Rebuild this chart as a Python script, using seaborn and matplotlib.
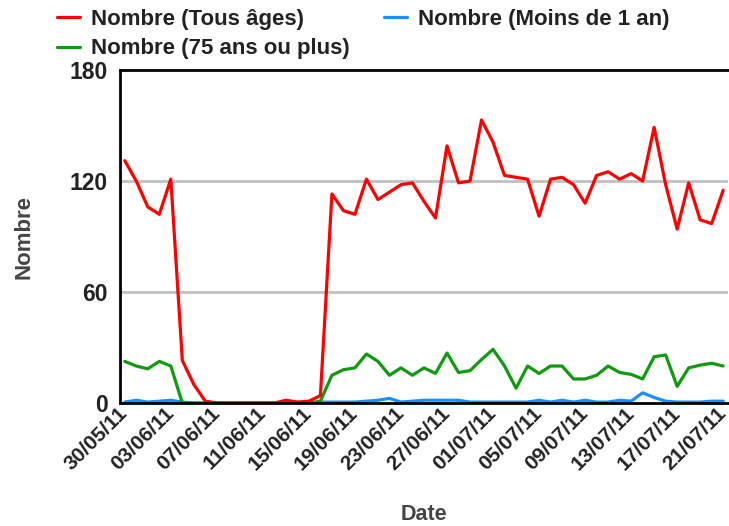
import matplotlib
matplotlib.use("Agg")
import matplotlib.pyplot as plt
import matplotlib.transforms as mtransforms
import seaborn as sns
import pandas as pd
import numpy as np

dates = pd.date_range("2011-05-30", "2011-07-21", freq="D")

tous_ages = [131, 120, 106, 102, 121, 23, 10, 1, 0, 0, 0, 0, 0, 0, 1.5, 0.5, 1, 4,
             113, 104, 102, 121, 110, 114, 118, 119, 109, 100, 139, 119, 120, 153,
             141, 123, 122, 121, 101, 121, 122, 118, 108, 123, 125, 121, 124, 120,
             149, 118, 94, 119, 99, 97, 115]
plus_75 = [22.5, 20, 18.5, 22.5, 20, 0, 0, 0, 0, 0, 0, 0, 0, 0, 0, 0, 0, 1,
           15, 18, 19, 26.5, 22.5, 15, 19, 15, 19, 16, 27, 16.5, 17.5, 23.5,
           29, 20, 8, 20, 16, 20, 20, 13, 13, 15, 20, 16.5, 15.5, 13,
           25, 26, 9, 19, 20.5, 21.5, 20]
moins_1 = [0.5, 1.5, 0.5, 1, 1.5, 0.5, 0, 0, 0, 0, 0, 0, 0, 0, 0, 0, 0, 0.5,
           0.5, 0.5, 0.5, 1, 1.5, 2.5, 0.5, 1, 1.5, 1.5, 1.5, 1.5, 0.5, 0.5,
           0.5, 0.5, 0.5, 0.5, 1.5, 0.5, 1.5, 0.5, 1.5, 0.5, 0.5, 1.5, 1, 5.5,
           3, 1, 0.5, 0.5, 0.5, 1, 1]

series_names = ["Nombre (Tous âges)", "Nombre (75 ans ou plus)", "Nombre (Moins de 1 an)"]
series_colors = ["#ff0000", "#109a10", "#1a90ff"]
tick_dates = ["30/05/11", "03/06/11", "07/06/11", "11/06/11", "15/06/11", "19/06/11",
              "23/06/11", "27/06/11", "01/07/11", "05/07/11", "09/07/11", "13/07/11",
              "17/07/11", "21/07/11"]
y_ticks = [0, 60, 120, 180]

df = pd.concat([
    pd.DataFrame({"Date": dates, "Nombre": vals, "Série": name})
    for name, vals in zip(series_names, [tous_ages, plus_75, moins_1])
])

sns.set_style("white")
plt.rcParams["font.family"] = ["Liberation Sans", "DejaVu Sans"]

fig = plt.figure(figsize=(7.29, 5.26), dpi=100)
ax = fig.add_axes([0.1646, 0.2338, 0.834, 0.6331])

draw_order = [series_names[2], series_names[1], series_names[0]]
palette = dict(zip(series_names, series_colors))
sns.lineplot(data=df, x="Date", y="Nombre", hue="Série", hue_order=draw_order,
             palette=palette, linewidth=2.3, ax=ax, legend=True)

ax.set_ylim(0, 180)
ax.set_yticks(y_ticks)
ax.set_yticklabels([str(v) for v in y_ticks], fontsize=16.5, fontweight="bold", color="#222222")
xt = pd.to_datetime(tick_dates, format="%d/%m/%y")
ax.set_xticks(xt)
ax.set_xticklabels(tick_dates, rotation=45, ha="right", va="center", rotation_mode="anchor",
                   fontsize=15, fontweight="bold", color="#222222")
shift = mtransforms.ScaledTranslation(8 / 100, 0, fig.dpi_scale_trans)
for lab in ax.get_xticklabels():
    lab.set_transform(lab.get_transform() + shift)
ax.set_xlim(dates[0] - pd.Timedelta(hours=10), dates[-1] + pd.Timedelta(hours=10))

for v in [60, 120]:
    ax.axhline(v, color="#c0c0c0", linewidth=2, zorder=0)

for s in ["left", "bottom", "top"]:
    ax.spines[s].set_visible(True)
    ax.spines[s].set_color("black")
    ax.spines[s].set_linewidth(2)
ax.spines["right"].set_visible(False)
ax.tick_params(axis="x", direction="out", length=5, width=1.5, color="black", pad=0)
ax.tick_params(axis="y", direction="out", length=3, width=1.5, color="#888888", pad=6)

ax.set_xlabel("Date", fontsize=15.5, fontweight="bold", color="#444444", va="center")
ax.xaxis.set_label_coords(0.5, -0.336)
ax.set_ylabel("Nombre", fontsize=16, fontweight="bold", color="#444444", va="center")
ax.yaxis.set_label_coords(-0.158, 0.5)

handles, labels = ax.get_legend_handles_labels()
hmap = dict(zip(labels, handles))
order = [series_names[0], series_names[1], series_names[2]]
leg = fig.legend([hmap[n] for n in order], order, ncol=2, loc="upper left",
                 bbox_to_anchor=(57 / 729, 1 - 9 / 526), frameon=False,
                 handlelength=1.05, handletextpad=0.5, columnspacing=1.5,
                 labelspacing=0.38, borderpad=0, borderaxespad=0,
                 prop={"weight": "bold", "size": 16})
for t in leg.get_texts():
    t.set_color("#222222")
ax.get_legend().remove()

fig.savefig("out.png", dpi=100)
